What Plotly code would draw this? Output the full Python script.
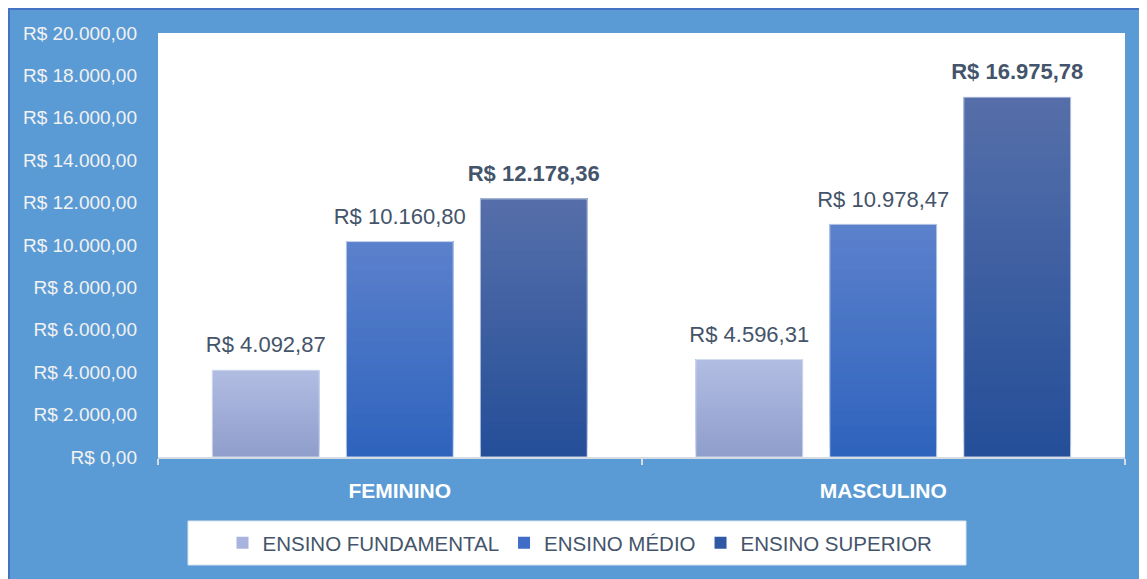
import plotly.graph_objects as go

# ---- data ----
categories = ["FEMININO", "MASCULINO"]
series_names = ["ENSINO FUNDAMENTAL", "ENSINO MÉDIO", "ENSINO SUPERIOR"]
fundamental = [4092.87, 4596.31]
medio = [10160.80, 10978.47]
superior = [12178.36, 16975.78]
y_tick_values = [0, 2000, 4000, 6000, 8000, 10000, 12000, 14000, 16000, 18000, 20000]

series_values = [fundamental, medio, superior]


def brl(v):
    s = f"{v:,.2f}".replace(",", "X").replace(".", ",").replace("X", ".")
    return "R$ " + s


# ---- styles ----
FONT = "Liberation Sans"
TEXT_DARK = "#44546A"
grad_top = [(178, 189, 227), (92, 129, 204), (86, 111, 170)]
grad_bot = [(143, 157, 203), (46, 99, 189), (36, 78, 152)]
legend_colors = ["#A8B4DD", "#3F6DC8", "#2F5AA3"]
label_bold = [False, False, True]
N = 30


def mix(c1, c2, t):
    return "rgb(%d,%d,%d)" % tuple(round(a + (b - a) * t) for a, b in zip(c1, c2))


fig = go.Figure()

for s, (name, vals) in enumerate(zip(series_names, series_values)):
    og = "g%d" % s
    # gradient body: overlapping layers, each from a slice start up to the bar top
    for i in range(N):
        t = (i + 0.5) / N  # 0 bottom -> 1 top
        fig.add_trace(go.Bar(
            x=categories,
            y=[v * (N - i) / N for v in vals],
            base=[v * i / N for v in vals],
            offsetgroup=og,
            marker=dict(color=mix(grad_bot[s], grad_top[s], t), line=dict(width=0)),
            showlegend=False, hoverinfo="skip",
        ))
    # outline
    fig.add_trace(go.Bar(
        x=categories, y=vals, offsetgroup=og,
        marker=dict(color="rgba(0,0,0,0)", line=dict(color="rgba(215,225,242,0.9)", width=1)),
        showlegend=False, hoverinfo="skip",
    ))
    # legend entry
    fig.add_trace(go.Bar(
        x=categories, y=[None, None], offsetgroup=og, name=name, legendgroup=og,
        marker=dict(color=legend_colors[s], line=dict(width=0)),
        showlegend=True, hoverinfo="skip",
    ))
    # data labels
    fig.add_trace(go.Scatter(
        x=categories, y=vals, offsetgroup=og, mode="markers+text",
        marker=dict(size=18, opacity=0),
        text=[brl(v) for v in vals], texttemplate="%{text}", textposition="top center",
        textfont=dict(family=FONT, size=22, color=TEXT_DARK,
                      weight="bold" if label_bold[s] else "normal"),
        showlegend=False, hoverinfo="skip", cliponaxis=False,
    ))

# page has an 8px body margin; figure is sized so the plot lands where the reference has it
OFF = 8
W, H = 1147 - OFF, 579 - OFF
L, T = 158 - OFF, 33 - OFF
PW, PH = 967, 424
R, B = W - L - PW, H - T - PH
PX0, PY1 = 158, 457  # plot-area left / bottom in page pixels


def px(x):
    return (x - PX0) / PW


def py(y):
    return (PY1 - y) / PH


shapes = [
    dict(type="line", xref="paper", yref="paper", x0=px(8), x1=px(1170), y0=py(9), y1=py(9),
         line=dict(color="#4472C4", width=2), layer="above"),
    dict(type="line", xref="paper", yref="paper", x0=px(9), x1=px(9), y0=py(8), y1=py(620),
         line=dict(color="#4472C4", width=2), layer="above"),
    # legend box
    dict(type="rect", xref="paper", yref="paper", x0=px(188), x1=px(966), y0=py(565), y1=py(521),
         fillcolor="white", line=dict(color="#D9E2F1", width=1), layer="above"),
]

fig.update_layout(
    width=W, height=H,
    margin=dict(l=L, r=R, t=T, b=B, pad=0),
    paper_bgcolor="#5B9BD5",
    plot_bgcolor="white",
    barmode="group",
    scattermode="group",
    bargap=0.1686,
    bargroupgap=0.2015,
    font=dict(family=FONT),
    showlegend=True,
    legend=dict(
        orientation="h", x=px(580), xanchor="center", y=py(543), yanchor="middle",
        bgcolor="rgba(0,0,0,0)", font=dict(family=FONT, size=20.5, color=TEXT_DARK),
        traceorder="normal", tracegroupgap=12,
    ),
    shapes=shapes,
    xaxis=dict(
        type="category",
        showline=True, linecolor="#D6DCE4", linewidth=1.5,
        ticks="outside", tickson="boundaries", ticklen=6, tickcolor="#D6DCE4", tickwidth=1.5,
        tickfont=dict(family=FONT, size=21, color="white", weight="bold"),
        ticklabelstandoff=14,
        showgrid=False,
    ),
    yaxis=dict(
        range=[0, 20000], tickvals=y_tick_values,
        ticktext=[brl(v) for v in y_tick_values],
        tickfont=dict(family=FONT, size=19, color="#F2F2F2"),
        showgrid=False, zeroline=False, showline=False, ticks="",
        ticklabelstandoff=20,
    ),
)

fig.write_html("out.html")
